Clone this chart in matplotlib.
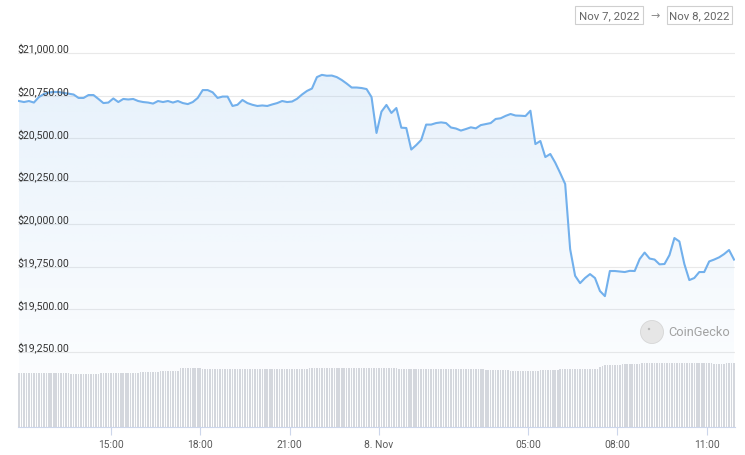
import numpy as np
import pandas as pd
import matplotlib
matplotlib.use("Agg")
import matplotlib.pyplot as plt
from matplotlib.transforms import blended_transform_factory, ScaledTranslation
from matplotlib.patches import Rectangle, Circle

plt.rcParams["font.family"] = ["Roboto", "DejaVu Sans"]

# ── data ──
# BTC price, 10-minute samples from Nov 7 11:55 to Nov 8 11:55
price_start = "2022-11-07 11:55"
prices = [
    20719, 20713, 20719, 20710, 20742, 20760, 20769, 20772, 20772, 20766, 20762, 20757,
    20737, 20737, 20754, 20754, 20731, 20707, 20710, 20734, 20713, 20731, 20728, 20731,
    20719, 20713, 20710, 20704, 20719, 20713, 20719, 20710, 20719, 20707, 20701, 20713,
    20737, 20783, 20783, 20770, 20737, 20745, 20745, 20690, 20697, 20725, 20707, 20697,
    20690, 20693, 20690, 20699, 20707, 20719, 20713, 20716, 20732, 20757, 20778, 20792,
    20859, 20872, 20867, 20868, 20859, 20842, 20821, 20798, 20798, 20795, 20789, 20742,
    20532, 20657, 20696, 20649, 20678, 20563, 20561, 20435, 20461, 20491, 20581, 20581,
    20590, 20594, 20590, 20564, 20558, 20546, 20555, 20565, 20559, 20578, 20584, 20590,
    20614, 20618, 20632, 20643, 20634, 20633, 20631, 20662, 20467, 20485, 20391, 20409,
    20358, 20297, 20233, 19852, 19696, 19653, 19683, 19706, 19683, 19607, 19577, 19724,
    19724, 19721, 19718, 19725, 19724, 19794, 19832, 19797, 19791, 19763, 19765, 19817,
    19917, 19897, 19765, 19671, 19683, 19718, 19718, 19780, 19791, 19804, 19823, 19847,
    19791,
]

# traded volume (B USD), 5-minute bars from Nov 7 11:55 to Nov 8 11:55
volume_start = "2022-11-07 11:55"
volumes = [
    37.6, 37.6, 37.6, 37.6, 37.6, 37.6, 37.6, 38.0, 38.0, 38.0, 38.0, 38.0,
    38.0, 38.0, 38.0, 38.0, 38.0, 38.0, 38.0, 38.0, 38.0, 37.3, 37.3, 37.3,
    37.3, 37.3, 37.3, 37.3, 37.3, 37.3, 37.3, 37.3, 37.3, 37.8, 37.8, 37.8,
    37.8, 37.8, 37.8, 37.8, 37.8, 37.8, 37.8, 37.8, 37.8, 37.8, 37.8, 37.8,
    37.8, 38.7, 38.7, 38.7, 38.7, 38.7, 38.7, 38.7, 38.7, 39.4, 39.4, 39.4,
    39.4, 39.4, 39.4, 39.4, 39.4, 41.1, 41.1, 41.1, 41.1, 41.1, 41.1, 41.1,
    41.1, 41.1, 41.0, 41.0, 41.0, 40.9, 40.9, 40.9, 40.8, 40.8, 40.8, 40.8,
    40.7, 40.7, 40.7, 40.7, 40.7, 40.7, 40.7, 40.7, 40.7, 40.7, 40.7, 40.7,
    40.6, 40.6, 40.6, 40.6, 40.6, 40.6, 40.6, 40.6, 40.6, 40.6, 40.6, 40.6,
    40.6, 40.6, 40.7, 40.7, 40.7, 40.8, 40.8, 40.8, 40.8, 41.3, 41.3, 41.3,
    41.4, 41.4, 41.4, 41.4, 41.4, 41.4, 41.4, 41.4, 41.4, 41.4, 41.3, 41.3,
    41.3, 41.3, 41.3, 41.3, 41.3, 41.3, 41.3, 41.3, 41.3, 41.3, 41.3, 41.3,
    41.2, 41.2, 41.2, 41.1, 41.1, 41.1, 41.1, 41.1, 41.1, 41.0, 41.0, 41.0,
    41.0, 41.0, 41.0, 41.0, 41.0, 40.9, 40.9, 40.9, 40.9, 40.9, 40.8, 40.8,
    40.8, 40.8, 40.8, 40.8, 40.7, 40.7, 40.7, 40.7, 40.7, 40.6, 40.6, 40.6,
    40.6, 40.6, 40.5, 40.5, 40.5, 40.4, 40.4, 40.4, 40.3, 40.3, 40.3, 40.2,
    40.2, 40.1, 40.1, 40.1, 40.0, 40.0, 39.2, 39.2, 39.2, 39.2, 39.2, 39.2,
    39.2, 39.2, 39.2, 39.2, 39.2, 39.2, 39.7, 39.7, 39.7, 39.7, 39.7, 39.7,
    39.7, 39.7, 40.6, 40.6, 40.6, 40.6, 40.6, 40.6, 40.6, 40.6, 40.6, 40.6,
    40.6, 40.6, 40.6, 40.6, 40.6, 40.6, 42.0, 42.8, 43.2, 43.4, 43.4, 43.4,
    43.4, 43.4, 43.4, 44.3, 44.3, 44.3, 44.3, 44.3, 44.3, 44.3, 44.3, 44.8,
    44.8, 44.8, 44.8, 44.8, 44.8, 44.8, 44.8, 44.8, 44.8, 44.8, 44.8, 44.8,
    44.8, 44.8, 44.8, 44.8, 44.8, 44.8, 44.8, 44.8, 44.8, 44.8, 44.8, 44.6,
    44.6, 44.6, 44.6, 44.6, 44.5, 44.3, 44.2, 44.2, 44.5, 44.6, 44.6, 44.6,
    44.6,
]

price_levels = [19250, 19500, 19750, 20000, 20250, 20500, 20750, 21000]
tick_times = ["2022-11-07 15:00", "2022-11-07 18:00", "2022-11-07 21:00",
              "2022-11-08 00:00", "2022-11-08 05:00", "2022-11-08 08:00", "2022-11-08 11:00"]
tick_labels = ["15:00", "18:00", "21:00", "8. Nov", "05:00", "08:00", "11:00"]
date_from, date_to = "Nov 7, 2022", "Nov 8, 2022"

LINE = "#72b0ec"
GRID = "#e9e9e9"
AXIS = "#ccd6eb"
BARS = "#d4d7dd"

price_t = pd.date_range(price_start, periods=len(prices), freq="10min")
vol_t = pd.date_range(volume_start, periods=len(volumes), freq="5min")

W, H = 745, 456
fig = plt.figure(figsize=(W / 100, H / 100), dpi=100)
ax = fig.add_axes([18 / W, (H - 428) / H, (735 - 18) / W, (428 - 40) / H])
ax.set_xlim(pd.Timestamp("2022-11-07 11:53"), pd.Timestamp("2022-11-08 11:57"))
ax.set_ylim(18811, 21082)
for s in ax.spines.values():
    s.set_visible(False)

# gridlines
for lv in price_levels:
    ax.axhline(lv, color=GRID, lw=0.8, zorder=1)

# gradient area under the price line
poly = ax.fill_between(price_t, prices, 18811, color="none", lw=0)
grad = np.zeros((200, 2, 4))
grad[..., 0], grad[..., 1], grad[..., 2] = 124 / 255, 181 / 255, 236 / 255
grad[..., 3] = np.linspace(0.18, 0.0, 200)[:, None]
x0, x1 = ax.get_xlim()
im = ax.imshow(grad, extent=[x0, x1, 18811, 20880], aspect="auto", origin="upper", zorder=2)
im.set_clip_path(poly.get_paths()[0], transform=ax.transData)
ax.set_xlim(x0, x1)
ax.set_ylim(18811, 21082)

ax.plot(price_t, prices, color=LINE, lw=1.5, zorder=4, solid_joinstyle="round")

# y labels sitting just above each gridline
tr = blended_transform_factory(ax.transAxes, ax.transData) + \
    ScaledTranslation(-1 / 100, 1.5 / 100, fig.dpi_scale_trans)
for lv in price_levels:
    ax.text(0, lv, f"${lv:,.2f}", transform=tr, ha="left", va="baseline",
            fontsize=7.6, color="#333333", zorder=5)
ax.set_yticks([])

# volume bars
axv = ax.twinx()
axv.set_ylim(0, 272)
axv.bar(vol_t, volumes, width=0.62 * 5 / 1440, color=BARS, lw=0, zorder=1)
axv.set_yticks([])
for s in axv.spines.values():
    s.set_visible(False)
axv.spines["bottom"].set_visible(True)
axv.spines["bottom"].set_color(AXIS)
axv.spines["bottom"].set_linewidth(0.8)

ax.set_xticks([pd.Timestamp(t) for t in tick_times])
ax.set_xticklabels(tick_labels)
ax.tick_params(axis="x", length=6, width=0.8, color=AXIS, pad=3,
               labelsize=7.4, labelcolor="#5a5a5a")
axv.tick_params(axis="x", length=0)

# date range boxes
for (bx0, bx1), txt in [((575, 643), date_from), ((667, 732), date_to)]:
    fig.add_artist(Rectangle((bx0 / W, 1 - 25 / H), (bx1 - bx0) / W, 18 / H,
                             transform=fig.transFigure, fill=False,
                             edgecolor="#cfcfcf", lw=0.8))
    fig.text((bx0 + bx1) / 2 / W, 1 - 16 / H, txt, ha="center", va="center",
             fontsize=8.2, color="#666666")
fig.text(655 / W, 1 - 16 / H, "\u2192", ha="center", va="center", fontsize=8, color="#888888",
         family=["DejaVu Sans"])

# watermark (logo circle in inches so it stays round)
fig.add_artist(Circle((652 / 100, (H - 333) / 100), 0.115, transform=fig.dpi_scale_trans,
                      facecolor="#e6e6e6", edgecolor="#d6d6d6", lw=0.6))
fig.add_artist(Circle((649 / 100, (H - 330) / 100), 0.012, transform=fig.dpi_scale_trans,
                      facecolor="#b8b8b8", lw=0))
fig.text(668 / W, 1 - 333 / H, "CoinGecko", ha="left", va="center",
         fontsize=9.2, color="#a2a2a2")

fig.savefig("out.png", dpi=100)
